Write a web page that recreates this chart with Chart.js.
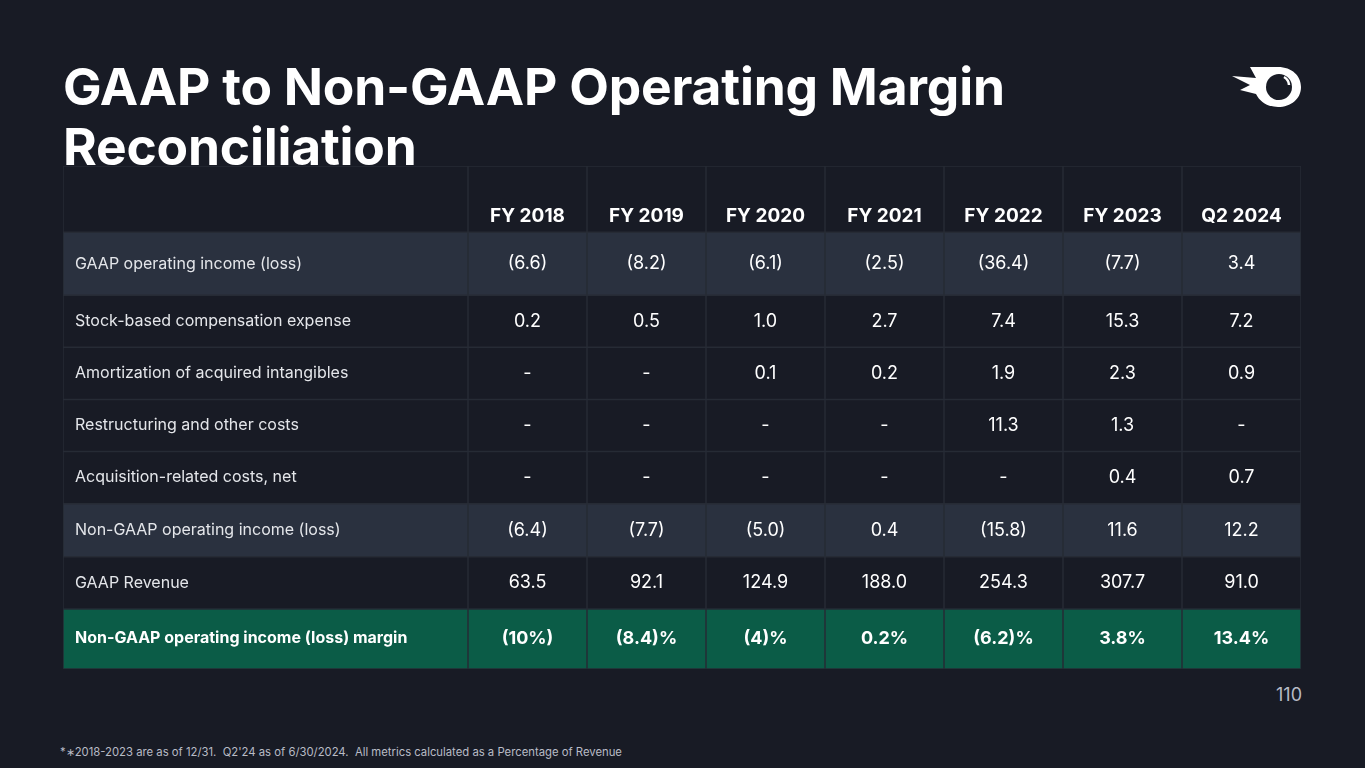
<!DOCTYPE html>
<html>
<head>
<meta charset="utf-8">
<script src="https://cdn.jsdelivr.net/npm/chart.js@4"></script>
<style>
  html, body { margin: 0; padding: 0; background: #181b25; width: 1365px; height: 768px; overflow: hidden; font-family: Inter, sans-serif; }
  h1 { position: absolute; left: 63px; top: 56px; margin: 0; color: #fff; font-size: 51.5px; line-height: 60px; font-weight: 700; letter-spacing: -0.2px; }
  #wrap { position: absolute; left: 63px; top: 166px; width: 1238px; height: 503px; }
  .page { position: absolute; right: 63px; top: 684px; color: #b8bcc6; font-size: 18px; }
  .note { position: absolute; left: 60px; top: 745px; color: #b8bcc6; font-size: 11.3px; white-space: pre; }
  svg { position: absolute; left: 1228px; top: 64px; }
</style>
</head>
<body>
<h1>GAAP to Non-GAAP Operating Margin<br>Reconciliation</h1>
<svg width="74" height="46" viewBox="0 0 74 46">
  <path d="M4 12 L28 14 L22 3 L50 3 C64 3 73 12 73 23 C73 35 63 43 50 43 C40 43 32 38 28 30 L12 26 L22 21 Z" fill="#fff"/>
  <circle cx="51" cy="23" r="13" fill="#181b25"/>
  <path d="M56 13 A10 10 0 0 1 61 21" stroke="#fff" stroke-width="2.5" fill="none"/>
</svg>
<div id="wrap"><canvas id="tbl"></canvas></div>
<div class="page">110</div>
<div class="note">*∗2018-2023 are as of 12/31.  Q2'24 as of 6/30/2024.  All metrics calculated as a Percentage of Revenue</div>
<script>
// data
const periods = ['FY 2018', 'FY 2019', 'FY 2020', 'FY 2021', 'FY 2022', 'FY 2023', 'Q2 2024'];
const rowLabels = [
  'GAAP operating income (loss)',
  'Stock-based compensation expense',
  'Amortization of acquired intangibles',
  'Restructuring and other costs',
  'Acquisition-related costs, net',
  'Non-GAAP operating income (loss)',
  'GAAP Revenue',
  'Non-GAAP operating income (loss) margin'
];
const gaapOpIncome = ['(6.6)', '(8.2)', '(6.1)', '(2.5)', '(36.4)', '(7.7)', '3.4'];
const stockComp = ['0.2', '0.5', '1.0', '2.7', '7.4', '15.3', '7.2'];
const amortization = ['-', '-', '0.1', '0.2', '1.9', '2.3', '0.9'];
const restructuring = ['-', '-', '-', '-', '11.3', '1.3', '-'];
const acquisition = ['-', '-', '-', '-', '-', '0.4', '0.7'];
const nonGaapOpIncome = ['(6.4)', '(7.7)', '(5.0)', '0.4', '(15.8)', '11.6', '12.2'];
const gaapRevenue = ['63.5', '92.1', '124.9', '188.0', '254.3', '307.7', '91.0'];
const nonGaapMargin = ['(10%)', '(8.4)%', '(4)%', '0.2%', '(6.2)%', '3.8%', '13.4%'];
const tableRows = [gaapOpIncome, stockComp, amortization, restructuring, acquisition, nonGaapOpIncome, gaapRevenue, nonGaapMargin];

// layout (table units = px inside the table box)
const colEdges = [0, 405, 524, 643, 762, 881, 1000, 1119, 1238];
const rowEdges = [0, 66, 129, 181, 233, 285, 337, 390, 442, 502];
const rowFill = ['#2a313f', '#181b25', '#181b25', '#181b25', '#181b25', '#2a313f', '#181b25', '#0b5c47'];

const tablePlugin = {
  id: 'tablePlugin',
  afterDraw(chart) {
    const ctx = chart.ctx, xs = chart.scales.x, ys = chart.scales.y;
    const X = v => xs.getPixelForValue(v), Y = v => ys.getPixelForValue(v);
    ctx.save();
    rowLabels.forEach((_, r) => {
      ctx.fillStyle = rowFill[r];
      ctx.fillRect(X(0), Y(rowEdges[r + 1]), X(colEdges[8]) - X(0), Y(rowEdges[r + 2]) - Y(rowEdges[r + 1]));
    });
    ctx.strokeStyle = '#262b35';
    ctx.lineWidth = 1.5;
    colEdges.forEach(c => { ctx.beginPath(); ctx.moveTo(X(c), Y(0)); ctx.lineTo(X(c), Y(rowEdges[9])); ctx.stroke(); });
    rowEdges.forEach(r => { ctx.beginPath(); ctx.moveTo(X(0), Y(r)); ctx.lineTo(X(colEdges[8]), Y(r)); ctx.stroke(); });
    ctx.textAlign = 'center'; ctx.textBaseline = 'middle';
    ctx.fillStyle = '#ffffff';
    ctx.font = '700 19px Inter';
    periods.forEach((p, i) => ctx.fillText(p, (X(colEdges[i + 1]) + X(colEdges[i + 2])) / 2, Y(50)));
    tableRows.forEach((vals, r) => {
      const last = r === tableRows.length - 1;
      const cy = (Y(rowEdges[r + 1]) + Y(rowEdges[r + 2])) / 2;
      ctx.textAlign = 'left';
      ctx.fillStyle = last ? '#ffffff' : '#e4e6ea';
      ctx.font = (last ? '700 ' : '400 ') + '16px Inter';
      ctx.fillText(rowLabels[r], X(12), cy - (last ? 1 : 0));
      ctx.textAlign = 'center';
      ctx.font = (last ? '700 ' : '400 ') + '18px Inter';
      ctx.fillStyle = '#ffffff';
      vals.forEach((v, i) => ctx.fillText(v, (X(colEdges[i + 1]) + X(colEdges[i + 2])) / 2, cy));
    });
    ctx.restore();
  }
};

new Chart(document.getElementById('tbl'), {
  type: 'scatter',
  data: { datasets: [{ data: [] }] },
  options: {
    responsive: true,
    maintainAspectRatio: false,
    animation: false,
    layout: { padding: 0 },
    plugins: { legend: { display: false }, tooltip: { enabled: false } },
    scales: {
      x: { type: 'linear', min: 0, max: 1238, display: false },
      y: { type: 'linear', min: 0, max: 502, reverse: true, display: false }
    }
  },
  plugins: [tablePlugin]
});
</script>
</body>
</html>
